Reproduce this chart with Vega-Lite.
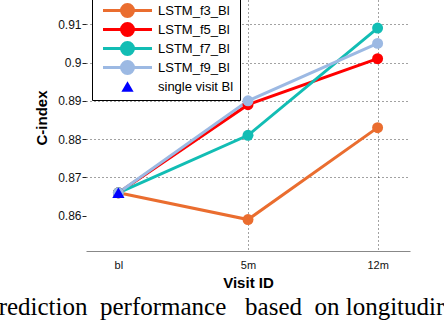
{
  "$schema": "https://vega.github.io/schema/vega-lite/v6.json",
  "width": 324,
  "height": 267,
  "autosize": {"type": "none"},
  "padding": {"left": 86, "top": -16, "right": 34, "bottom": 69},
  "background": "white",
  "config": {
    "font": "Liberation Sans",
    "view": {"stroke": null}
  },
  "title": {
    "text": "rediction\u00a0\u00a0performance\u00a0\u00a0\u00a0based\u00a0\u00a0on\u00a0longitudir",
    "orient": "bottom",
    "anchor": "start",
    "frame": "bounds",
    "font": "Liberation Serif",
    "fontSize": 25,
    "fontWeight": "normal",
    "color": "black",
    "baseline": "alphabetic",
    "offset": 25,
    "dx": -36
  },
  "data": {
    "values": [
      {"series": "LSTM_f3_Bl", "visit": "bl", "cindex": 0.866},
      {"series": "LSTM_f3_Bl", "visit": "5m", "cindex": 0.859},
      {"series": "LSTM_f3_Bl", "visit": "12m", "cindex": 0.883},
      {"series": "LSTM_f5_Bl", "visit": "bl", "cindex": 0.866},
      {"series": "LSTM_f5_Bl", "visit": "5m", "cindex": 0.889},
      {"series": "LSTM_f5_Bl", "visit": "12m", "cindex": 0.901},
      {"series": "LSTM_f7_Bl", "visit": "bl", "cindex": 0.866},
      {"series": "LSTM_f7_Bl", "visit": "5m", "cindex": 0.881},
      {"series": "LSTM_f7_Bl", "visit": "12m", "cindex": 0.909},
      {"series": "LSTM_f9_Bl", "visit": "bl", "cindex": 0.866},
      {"series": "LSTM_f9_Bl", "visit": "5m", "cindex": 0.890},
      {"series": "LSTM_f9_Bl", "visit": "12m", "cindex": 0.905},
      {"series": "single visit Bl", "visit": "bl", "cindex": 0.866}
    ]
  },
  "encoding": {
    "x": {
      "field": "visit",
      "type": "ordinal",
      "sort": ["bl", "5m", "12m"],
      "scale": {"type": "point", "padding": 0.25},
      "axis": {
        "title": "Visit ID",
        "titleFontSize": 15,
        "titleFontWeight": "bold",
        "titleColor": "black",
        "titlePadding": 5,
        "labelAngle": 0,
        "labelFontSize": 11,
        "labelColor": "#111",
        "labelPadding": 8,
        "ticks": false,
        "domainColor": "#888",
        "domainWidth": 1,
        "grid": true,
        "gridColor": {"condition": {"test": "datum.value === 'bl'", "value": "transparent"}, "value": "#444"},
        "gridDash": [1, 3],
        "gridWidth": 1
      }
    },
    "y": {
      "field": "cindex",
      "type": "quantitative",
      "scale": {"domain": [0.8508, 0.9205], "nice": false, "zero": false},
      "axis": {
        "title": "C-index",
        "titleFontSize": 15,
        "titleFontWeight": "bold",
        "titleColor": "black",
        "titlePadding": 8,
        "values": [0.86, 0.87, 0.88, 0.89, 0.9, 0.91],
        "format": ".2~f",
        "labelFontSize": 12,
        "labelColor": "#111",
        "labelPadding": 1,
        "tickSize": 4,
        "tickColor": "#222",
        "domain": false,
        "grid": true,
        "gridColor": {"condition": {"test": "datum.value < 0.865", "value": "transparent"}, "value": "#444"},
        "gridDash": [1, 3],
        "gridWidth": 1
      }
    },
    "color": {
      "field": "series",
      "type": "nominal",
      "scale": {
        "domain": ["LSTM_f3_Bl", "LSTM_f5_Bl", "LSTM_f7_Bl", "LSTM_f9_Bl", "single visit Bl"],
        "range": ["#EA6D2F", "#FF0000", "#12BDB4", "#9CB9E3", "#0000FF"]
      },
      "legend": {
        "title": null,
        "orient": "none",
        "legendX": 6,
        "legendY": 14,
        "padding": 6,
        "fillColor": "white",
        "strokeColor": "black",
        "labelFontSize": 13,
        "labelColor": "black",
        "symbolSize": 96,
        "symbolStrokeWidth": 3,
        "symbolOffset": 23,
        "labelOffset": 24,
        "rowPadding": -6,
        "symbolOpacity": 1,
        "encode": {
          "symbols": {
            "update": {
              "shape": {"signal": "datum.value === 'single visit Bl' ? 'triangle-up' : 'M-5,0H5M1.22,0A1.22,1.22,0,1,1,-1.22,0A1.22,1.22,0,1,1,1.22,0Z'"},
              "size": {"signal": "datum.value === 'single visit Bl' ? 150 : 96"},
              "fill": {"scale": "color", "field": "value"},
              "stroke": {"scale": "color", "field": "value"},
              "strokeWidth": {"signal": "datum.value === 'single visit Bl' ? 0 : 3"},
              "opacity": {"value": 1}
            }
          }
        }
      }
    }
  },
  "layer": [
    {
      "transform": [{"filter": "datum.series !== 'single visit Bl'"}],
      "mark": {"type": "line", "strokeWidth": 3}
    },
    {
      "transform": [{"filter": "datum.series !== 'single visit Bl'"}],
      "mark": {"type": "point", "filled": true, "shape": "circle", "size": 120, "opacity": 1}
    },
    {
      "transform": [{"filter": "datum.series === 'single visit Bl'"}],
      "mark": {"type": "point", "filled": true, "shape": "triangle-up", "size": 150, "opacity": 1}
    }
  ]
}
